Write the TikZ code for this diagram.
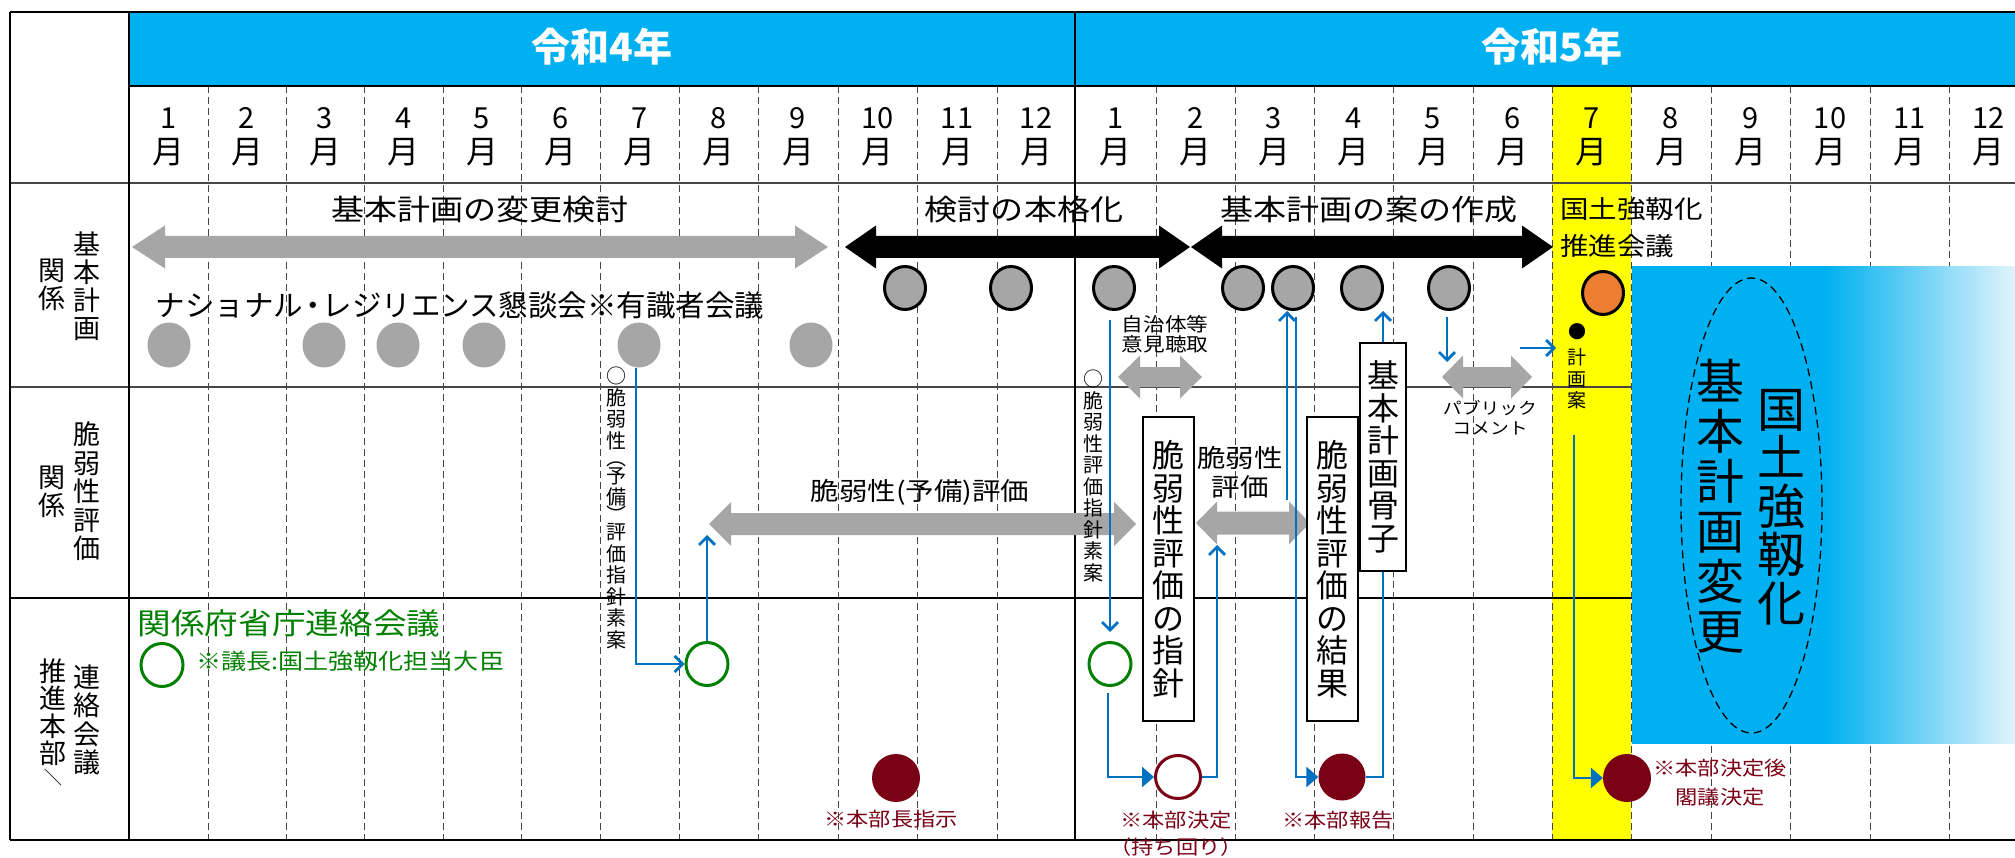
\documentclass[tikz,border=0pt]{standalone}
\usepackage{fontspec}
\usepackage{graphicx}
\usetikzlibrary{arrows.meta,shapes.geometric,calc}
\newfontfamily\jp{Noto Sans CJK JP}
\newfontfamily\jpw[FakeStretch=1.14]{Noto Sans CJK JP}
\definecolor{hdrblue}{RGB}{0,176,240}
\definecolor{arrgray}{RGB}{166,166,166}
\definecolor{lineblue}{RGB}{0,112,192}
\definecolor{dgreen}{RGB}{0,128,0}
\definecolor{dred}{RGB}{122,0,22}
\definecolor{orng}{RGB}{237,125,49}
\definecolor{ylw}{RGB}{255,255,0}
\definecolor{fadeblue}{RGB}{226,244,252}
\definecolor{gridgray}{RGB}{70,70,70}
% xl xr y halfshaft halfhead headlen color
\newcommand{\dblarr}[7]{\fill[#7] (#1,#3) -- ({#1+#6},{#3-#5}) -- ({#1+#6},{#3-#4}) -- ({#2-#6},{#3-#4}) -- ({#2-#6},{#3-#5}) -- (#2,#3) -- ({#2-#6},{#3+#5}) -- ({#2-#6},{#3+#4}) -- ({#1+#6},{#3+#4}) -- ({#1+#6},{#3+#5}) -- cycle;}
\newcommand{\mlabel}[1]{#1\\{\fontsize{32}{35}\selectfont 月}}
\begin{document}
\begin{tikzpicture}[x=1pt,y=-1pt,
  ht/.style n args={2}{font=\jpw\fontsize{#1}{#2}\selectfont, inner sep=0pt, align=center},
  vt/.style n args={2}{font=\jp\fontsize{#1}{#2}\selectfont, inner sep=0pt, align=center},
  vbox/.style n args={2}{draw=black, line width=1.5pt, fill=white, minimum width=#1pt, minimum height=#2pt, inner sep=0pt},
  month/.style={font=\jp\fontsize{29}{35}\selectfont, inner sep=0pt, align=center},
  griddash/.style={draw=gridgray, line width=1pt, dash pattern=on 7pt off 4pt},
  gdot/.style={ellipse, fill=arrgray, minimum width=43pt, minimum height=45pt, inner sep=0pt},
  gcirc/.style={ellipse, draw=black, line width=3pt, fill=arrgray, minimum width=41pt, minimum height=43pt, inner sep=0pt},
  ocirc/.style={ellipse, draw=black, line width=3pt, fill=orng, minimum width=41pt, minimum height=43pt, inner sep=0pt},
  grcirc/.style={ellipse, draw=dgreen, line width=3pt, fill=white, minimum width=42pt, minimum height=43pt, inner sep=0pt},
  rdot/.style={ellipse, fill=dred, minimum width=48pt, minimum height=48pt, inner sep=0pt},
  rcirc/.style={ellipse, draw=dred, line width=3pt, fill=white, minimum width=45pt, minimum height=43pt, inner sep=0pt},
  barb/.style={draw=lineblue, line width=2.7pt, -{Straight Barb[length=8pt,width=16pt]}},
  tri/.style={draw=lineblue, line width=2.7pt, -{Triangle[length=12pt,width=20pt]}},
  plain/.style={draw=lineblue, line width=2.7pt}]
\useasboundingbox (0,0) rectangle (2015,858);
\fill[white] (0,0) rectangle (2015,858);
% header and highlight
\fill[hdrblue] (129,12) rectangle (2015,86);
\fill[ylw] (1552,86) rectangle (1631,840);
% dashed month lines
\foreach \bx in {208,286,364,443,521,600,679,758.5,838,917,997,1156,1235,1314,1393.5,1473,1552,1631,1711,1790,1870,1949}
  \draw[griddash] (\bx,86) -- (\bx,840);
% row separators
\draw[line width=1.2pt, gridgray] (10,183) -- (2015,183);
\draw[line width=1.2pt, gridgray] (10,387) -- (2015,387);
\draw[line width=1.2pt, black] (10,598) -- (2015,598);
% blue panel with fading right part
\fill[hdrblue] (1632,266) rectangle (1827,744);
\foreach \k in {0,...,95} {
  \pgfmathtruncatemacro\pc{100-\k*100/95}
  \fill[hdrblue!\pc!fadeblue] ({1826+\k*2},266) rectangle ({1826+\k*2+2.3},744);
}
% frame
\draw[line width=2.5pt] (10,12) -- (2015,12);
\draw[line width=1.2pt] (10,12) -- (10,840);
\draw[line width=2pt] (129,12) -- (129,840);
\draw[line width=2pt] (129,86) -- (2015,86);
\draw[line width=1.5pt] (1075,12) -- (1075,840);
\draw[line width=1.5pt] (10,840) -- (2015,840);
% year labels
\node[font=\jp\bfseries\fontsize{39}{39}\selectfont, text=white, inner sep=0pt] (y4) at (602,47) {令和4年};
\node[font=\jp\bfseries\fontsize{39}{39}\selectfont, text=white, inner sep=0pt] (y5) at (1552,47) {令和5年};
% month labels
\foreach \mx/\ml [count=\i] in {168.5/1,247/2,325/3,403.5/4,482/5,560.5/6,639.5/7,718.75/8,798/9,877.5/10,957/11,1036/12,1115.5/1,1195.5/2,1274/3,1353.75/4,1433/5,1512.5/6,1591.5/7,1671/8,1750.5/9,1830/10,1909.5/11,1988.5/12}
  \node[month] (m\i) at (\mx,136.5) {\mlabel{\ml}};
% left column labels
\node[vt={27}{28}] (l1a) at (87,286) {基\\本\\計\\画};
\node[vt={27}{28}] (l1b) at (52,285) {関\\係};
\node[vt={27}{28.5}] (l2a) at (87,491.5) {脆\\弱\\性\\評\\価};
\node[vt={27}{28}] (l2b) at (52,492) {関\\係};
\node[vt={27}{28.5}] (l3a) at (87,720) {連\\絡\\会\\議};
\node[vt={27}{27.5}] (l3b) at (53,712) {推\\進\\本\\部};
\node[vt={18}{18}, rotate=-90] (l3c) at (53,777) {／};
% block arrows
\dblarr{132}{828}{247}{11}{21.5}{33}{arrgray}
\dblarr{845}{1190}{247}{11}{21.5}{31}{black}
\dblarr{1191}{1553}{247}{11}{21.5}{31}{black}
\dblarr{709}{1136}{524}{11}{22}{22}{arrgray}
\dblarr{1118}{1202}{377}{10}{21.5}{22}{arrgray}
\dblarr{1196}{1310}{523}{11.5}{21.5}{21}{arrgray}
\dblarr{1442}{1532}{377}{10}{21.5}{21}{arrgray}
% row 1 texts
\node[ht={29}{34}] (t1) at (480,210) {基本計画の変更検討};
\node[ht={29}{34}] (t2) at (1024,210) {検討の本格化};
\node[ht={29}{34}] (t3) at (1369,210) {基本計画の案の作成};
\node[vt={29.5}{30}] (t4) at (460,305) {ナショナル\kern-5pt・\kern-5pt レジリエンス懇談会※有識者会議};
\node[ht={25}{37}, align=left, anchor=west] (t5) at (1560,228) {国土強靱化\\推進会議};
% circles row 1
\node[gdot] (p1) at (169,345) {};
\node[gdot] (p2) at (324,345) {};
\node[gdot] (p3) at (398,345) {};
\node[gdot] (p4) at (484,345) {};
\node[gdot] (p5) at (639,345) {};
\node[gdot] (p6) at (811,345) {};
\node[gcirc] (c1) at (905,288) {};
\node[gcirc] (c2) at (1011,288) {};
\node[gcirc] (c3) at (1114,288) {};
\node[gcirc] (c4) at (1243,288) {};
\node[gcirc] (c5) at (1293,288) {};
\node[gcirc] (c6) at (1362,288) {};
\node[gcirc] (c7) at (1449,288) {};
\node[ocirc] (o1) at (1603,293) {};
% row 2/3 texts
\node[ht={25}{30}] (t6) at (920,492) {脆弱性(予備)評価};
\node[ht={19}{20}] (t7) at (1165,334) {自治体等\\意見聴取};
\node[ht={25}{29}] (t8) at (1240,472) {脆弱性\\評価};
\node[ht={16.5}{20}] (t9) at (1490,418) {パブリック\\コメント};
\node[ht={29.5}{34}, text=dgreen] (t10) at (289,623) {関係府省庁連絡会議};
\node[ht={22}{26}, text=dgreen, anchor=west] (t11) at (196,661) {※議長:国土強靱化担当大臣};
\node[ht={19.5}{27}, text=dred] (t12) at (891,819) {※本部長指示};
\node[ht={19.5}{27}, text=dred] (t13) at (1176,834) {※本部決定\\（持ち回り）};
\node[ht={19.5}{27}, text=dred] (t14) at (1338,820) {※本部報告};
\node[ht={19.5}{29}, text=dred] (t15) at (1720,783) {※本部決定後\\閣議決定};
% vertical small texts
\node[vt={20}{21.5}] (v1) at (616,508) {○\\脆\\弱\\性\\[-4pt]︵\\[-4pt]予\\備\\[-4pt]︶\\[-4pt]評\\価\\指\\針\\素\\案};
\node[vt={20}{21.5}] (v2) at (1093,476) {○\\脆\\弱\\性\\評\\価\\指\\針\\素\\案};
\node[vt={18}{18}] (dot) at (1577,332) {●};
\node[vt={19}{21.5}] (kka) at (1577,379) {計\\画\\案};
% boxes
\node[vbox={51}{304}, vt={32}{32.5}] (bx1) at (1168.5,569) {脆\\弱\\性\\評\\価\\の\\指\\針};
\node[vbox={51}{304}, vt={32}{32.5}] (bx2) at (1332.5,569) {脆\\弱\\性\\評\\価\\の\\結\\果};
\node[vbox={46}{228}, vt={32}{32.5}] (bx3) at (1383,457) {基\\本\\計\\画\\骨\\子};
% big vertical text in blue panel
\draw[black, line width=1.3pt, dash pattern=on 8pt off 5pt] (1751.5,505.5) ellipse [x radius=70.5pt, y radius=227.5pt];
\node[vt={48}{50}] (bv1) at (1720,506) {基\\本\\計\\画\\変\\更};
\node[vt={48}{48.5}] (bv2) at (1781,507) {国\\土\\強\\靱\\化};
% row 3 circles
\node[grcirc] (gA) at (162,665) {};
\node[grcirc] (gB) at (707,664) {};
\node[grcirc] (gC) at (1110,664) {};
\node[rdot] (r1) at (896,778) {};
\node[rcirc] (r2) at (1178,777) {};
\node[rdot, minimum width=47pt, minimum height=47pt] (r3) at (1342,777) {};
\node[rdot] (r4) at (1627,778) {};
% free ends
\coordinate (a4l) at (707,535);
\coordinate (a6b) at (1217,545);
\coordinate (s6) at (1287,500);
\coordinate (c7d) at (1447,362);
\coordinate (pcA) at (1520,348);
\coordinate (pcB) at (1556,348);
\coordinate (kst) at (1574,435);
% connectors
\draw[barb] ($(p5.south)+(-3,0)$) |- (gB.west);
\draw[barb] (gB.north) -- (a4l);
\draw[barb] ($(gC.north|-c3.south)+(0,9)$) -- ($(gC.north)+(0,-9)$);
\draw[tri] ($(gC.south)+(-2,6)$) |- (r2.west);
\draw[barb] (r2.east) -| (a6b);
\draw[barb] (s6) -- (s6 |- c5.south);
\draw[tri] ($(c5.south)+(3,6)$) |- (r3.west);
\draw[barb] (bx3.north) -- (bx3.north |- c6.south);
\draw[plain] (bx3.south) |- (r3.east);
\draw[barb] ($(c7.south)+(-2,6)$) -- (c7d);
\draw[barb] (pcA) -- (pcB);
\draw[tri] (kst) |- (r4.west);
\end{tikzpicture}
\end{document}
